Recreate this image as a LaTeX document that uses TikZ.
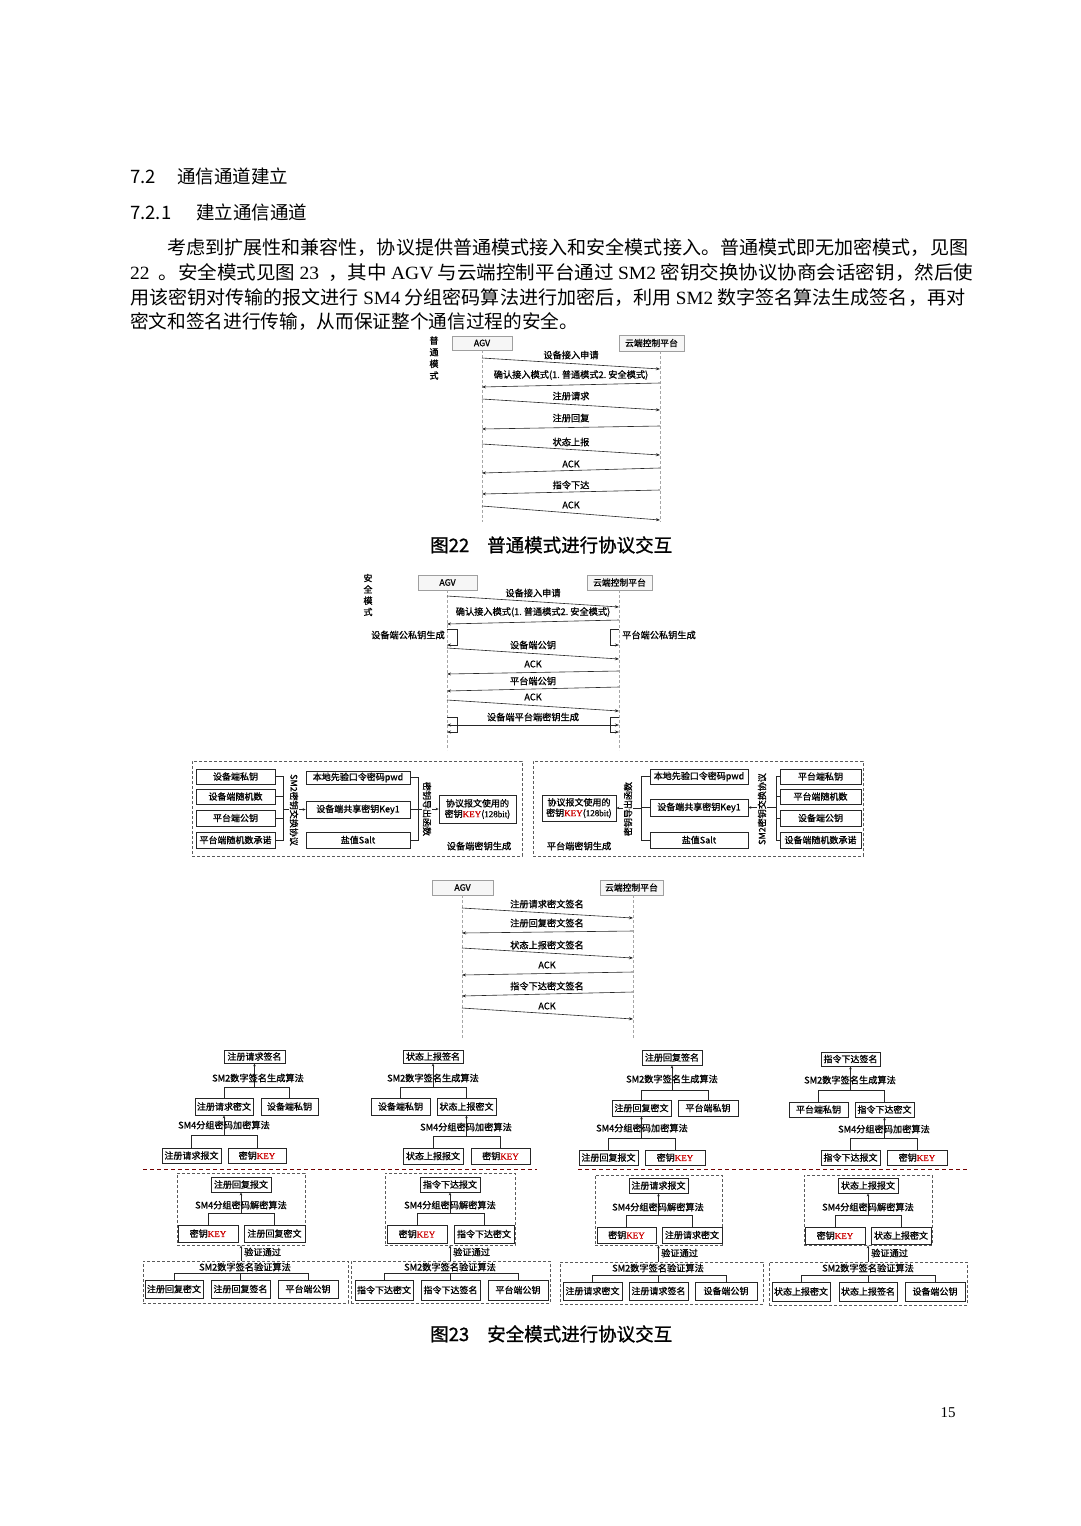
\documentclass[tikz,border=0pt]{standalone}
\usepackage{fontspec}
\usepackage{graphicx}
\setmainfont{Noto Sans CJK SC}
\newfontfamily\tnr{Liberation Serif}
\newfontfamily\dg[FakeBold=1.0]{Noto Sans CJK SC}
\newfontfamily\dgt[FakeBold=1.0]{Liberation Serif}
\usetikzlibrary{arrows.meta}
\newcommand\key{\textcolor{red!80!black}{\dgt KEY}}
\newcommand\mkbox[7][bx]{\node[#1, minimum width={(#5)-(#3)}, minimum height={(#6)-(#4)}] (#2) at ({((#3)+(#5))/2},{((#4)+(#6))/2}) {#7};}
\newcommand\twotree[4]{%
 \draw[tl] (#2.north) -- (#2.north |- 0,#4) -- (#3.north |- 0,#4) -- (#3.north);
 \draw[ta] (#1.south |- 0,#4) -- (#1.south);}
\newcommand\threetree[4]{%
 \draw[tl] (#1.north) -- (#1.north |- 0,#4) -- (#3.north |- 0,#4) -- (#3.north);
 \draw[tl] (#2.north) -- (#2.north |- 0,#4);}
\newcommand\pline[5]{\node[anchor=base west, inner sep=0, font=\fontsize{18.7}{20}\selectfont] (#1) at (#2,#3) {\resizebox{#4pt}{\height}{#5}};}
\tikzset{
 sq/.style={draw=gray!75, fill=gray!7, inner sep=0, font=\dg\fontsize{8.8}{9}\selectfont},
 life/.style={draw=gray!70, dash pattern=on 3pt off 2pt, line width=0.5pt},
 msg/.style={draw=black!85, line width=0.6pt, -{Stealth[length=4pt,width=3pt]}},
 dmsg/.style={draw=black!85, line width=0.6pt, {Stealth[length=4pt,width=3pt]}-{Stealth[length=4pt,width=3pt]}},
 ml/.style={font=\dg\fontsize{9.2}{10}\selectfont, inner sep=0},
 bx/.style={draw=black!85, line width=0.65pt, fill=white, inner sep=0, font=\dg\fontsize{9}{10.5}\selectfont, align=center},
 dbx/.style={draw=black!65, dash pattern=on 3pt off 2pt, line width=0.6pt, inner sep=0},
 tl/.style={draw=black!85, line width=0.6pt},
 ta/.style={tl, -{Stealth[length=3pt,width=2.5pt]}},
 head/.style={anchor=base west, inner sep=0, font=\fontsize{18.5}{20}\selectfont},
 capt/.style={anchor=base west, inner sep=0, font=\dg\fontsize{18.5}{20}\selectfont},
 vtxt/.style={font=\dg\fontsize{9}{10}\selectfont, inner sep=0.6pt, fill=white},
}
\begin{document}
\begin{tikzpicture}[x=1pt,y=-1pt]
\useasboundingbox[fill=white] (0,0) rectangle (1080,1526);

% ---------- headings and paragraph ----------
\node[head] (h1n) at (130,183) {7.2};
\node[head] (h1t) at (177,183) {通信通道建立};
\node[head] (h2n) at (130,219) {7.2.1};
\node[head] (h2t) at (196,219) {建立通信通道};
\pline{p1}{167}{254}{801}{考虑到扩展性和兼容性，协议提供普通模式接入和安全模式接入。普通模式即无加密模式，见图}
\pline{p2}{130}{279}{843}{{\tnr 22}\ \ 。安全模式见图 {\tnr 23}\ \ ，其中 {\tnr AGV} 与云端控制平台通过 {\tnr SM2} 密钥交换协议协商会话密钥，然后使}
\pline{p3}{130}{304}{835}{用该密钥对传输的报文进行 {\tnr SM4} 分组密码算法进行加密后，利用 {\tnr SM2} 数字签名算法生成签名，再对}
\pline{p4}{130}{328}{448}{密文和签名进行传输，从而保证整个通信过程的安全。}

% ---------- Figure 22 ----------
\node[ml, align=center, font=\dg\fontsize{9}{11.7}\selectfont] (m22) at (434,358) {普\\通\\模\\式};
\node[sq, minimum width=60, minimum height=14] (agvA) at (482,343) {AGV};
\node[sq, minimum width=65, minimum height=16] (cldA) at (651.5,343) {云端控制平台};
\coordinate (la) at (482,350);
\coordinate (lc) at (660,351);
\draw[life] (la) -- (la |- 0,522);
\draw[life] (lc) -- (lc |- 0,522);
\draw[msg] (la |- 0,358) -- (lc |- 0,369); \node[ml] at (571,355) {设备接入申请};
\draw[msg] (lc |- 0,383) -- (la |- 0,387); \node[ml] at (571,375) {确认接入模式(1.\ 普通模式2.\ 安全模式)};
\draw[msg] (la |- 0,399) -- (lc |- 0,410); \node[ml] at (571,396) {注册请求};
\draw[msg] (lc |- 0,426) -- (la |- 0,429); \node[ml] at (571,418) {注册回复};
\draw[msg] (la |- 0,444) -- (lc |- 0,455); \node[ml] at (571,442) {状态上报};
\draw[msg] (lc |- 0,468) -- (la |- 0,473); \node[ml] at (571,464) {ACK};
\draw[msg] (lc |- 0,490) -- (la |- 0,494); \node[ml] at (571,485) {指令下达};
\draw[msg] (la |- 0,506) -- (lc |- 0,520); \node[ml] at (571,505) {ACK};
\node[capt] (c22a) at (430,552) {图22};
\node[capt] (c22b) at (487,552) {普通模式进行协议交互};

% ---------- Figure 23: sequence 1 ----------
\node[ml, align=center, font=\dg\fontsize{9}{11.3}\selectfont] (m23) at (368,595) {安\\全\\模\\式};
\node[sq, minimum width=59, minimum height=15] (agvB) at (447.5,582.5) {AGV};
\node[sq, minimum width=65, minimum height=15] (cldB) at (619.5,582.5) {云端控制平台};
\coordinate (lb) at (447,590);
\coordinate (ld) at (619,590);
\draw[life] (lb) -- (lb |- 0,750);
\draw[life] (ld) -- (ld |- 0,750);
\draw[msg] (lb |- 0,596) -- (ld |- 0,607); \node[ml] at (533,593) {设备接入申请};
\draw[msg] (ld |- 0,620) -- (lb |- 0,624); \node[ml] at (533,612) {确认接入模式(1.\ 普通模式2.\ 安全模式)};
\draw[msg] (lb |- 0,629) -- (457,629) -- (457,645) -- (lb |- 0,645);
\node[ml, anchor=east] at (445,635) {设备端公私钥生成};
\draw[msg] (ld |- 0,629) -- (610,629) -- (610,645) -- (ld |- 0,645);
\node[ml, anchor=west] at (622,635) {平台端公私钥生成};
\draw[msg] (lb |- 0,648) -- (ld |- 0,659); \node[ml] at (533,645) {设备端公钥};
\draw[msg] (ld |- 0,671) -- (lb |- 0,674); \node[ml] at (533,664) {ACK};
\draw[msg] (ld |- 0,687) -- (lb |- 0,691); \node[ml] at (533,681) {平台端公钥};
\draw[msg] (lb |- 0,700) -- (ld |- 0,711); \node[ml] at (533,697) {ACK};
\node[ml] at (533,717) {设备端平台端密钥生成};
\draw[msg] (lb |- 0,717) -- (457,717) -- (457,732) -- (lb |- 0,732);
\draw[msg] (ld |- 0,717) -- (610,717) -- (610,732) -- (ld |- 0,732);
\draw[dmsg] (lb |- 0,725) -- (ld |- 0,725);

% ---------- Figure 23: key generation, device side ----------
\mkbox[dbx]{kgl}{192}{761}{522}{856}{}
\mkbox{kl1}{196}{769}{275}{784}{设备端私钥}
\mkbox{kl2}{196}{789}{275}{804}{设备端随机数}
\mkbox{kl3}{196}{810}{275}{826}{平台端公钥}
\mkbox{kl4}{196}{832}{275}{848}{平台端随机数承诺}
\draw[tl] (kl1.east) -- (kl1.east -| 283,0) -- (kl4.east -| 283,0) -- (kl4.east);
\draw[tl] (kl2.east) -- (kl2.east -| 283,0);
\draw[tl] (kl3.east) -- (kl3.east -| 283,0);
\mkbox{ml1}{306}{771}{410}{784}{本地先验口令密码pwd}
\mkbox{ml2}{306}{801}{410}{818}{设备端共享密钥Key1}
\mkbox{ml3}{306}{832}{410}{848}{盐值Salt}
\coordinate (bl1) at (283,809.5);
\draw[ta] (bl1) -- (ml2.west);
\node[vtxt, rotate=-90] (sl1) at (294,810) {SM2密钥交换协议};
\draw[tl] (ml1.east) -- (ml1.east -| 418,0) -- (ml3.east -| 418,0) -- (ml3.east);
\draw[tl] (ml2.east) -- (ml2.east -| 418,0);
\mkbox{kyl}{439}{795}{516}{823}{协议报文使用的\\密钥\key({\dgt 128bit})}
\coordinate (bl2) at (418,809);
\draw[ta] (bl2) -- (kyl.west);
\node[vtxt, rotate=-90] (sl2) at (427,809) {密钥导出函数};
\node[ml] (kgll) at (479,846) {设备端密钥生成};

% ---------- Figure 23: key generation, platform side ----------
\mkbox[dbx]{kgr}{533}{761}{863}{856}{}
\mkbox{kyr}{542}{795}{616}{821}{协议报文使用的\\密钥\key({\dgt 128bit})}
\mkbox{mr1}{650}{769}{748}{784}{本地先验口令密码pwd}
\mkbox{mr2}{650}{799}{748}{816}{设备端共享密钥Key1}
\mkbox{mr3}{650}{832}{748}{848}{盐值Salt}
\draw[tl] (mr1.west) -- (mr1.west -| 641,0) -- (mr3.west -| 641,0) -- (mr3.west);
\draw[tl] (mr2.west) -- (mr2.west -| 641,0);
\coordinate (br2) at (641,808);
\draw[ta] (br2) -- (kyr.east);
\node[vtxt, rotate=90] (sr2) at (628,809) {密钥导出函数};
\mkbox{kr1}{780}{769}{861}{784}{平台端私钥}
\mkbox{kr2}{780}{789}{861}{804}{平台端随机数}
\mkbox{kr3}{780}{810}{861}{826}{设备端公钥}
\mkbox{kr4}{780}{832}{861}{848}{设备端随机数承诺}
\draw[tl] (kr1.west) -- (kr1.west -| 776,0) -- (kr4.west -| 776,0) -- (kr4.west);
\draw[tl] (kr2.west) -- (kr2.west -| 776,0);
\draw[tl] (kr3.west) -- (kr3.west -| 776,0);
\coordinate (br1) at (776,807.5);
\draw[ta] (br1) -- (mr2.east);
\node[vtxt, rotate=90] (sr1) at (762,809) {SM2密钥交换协议};
\node[ml] (kgrl) at (579,846) {平台端密钥生成};

% ---------- Figure 23: sequence 2 ----------
\node[sq, minimum width=61, minimum height=15] (agvC) at (462.5,887.5) {AGV};
\node[sq, minimum width=63, minimum height=15] (cldC) at (631.5,887.5) {云端控制平台};
\coordinate (le) at (462,895);
\coordinate (lf) at (633,895);
\draw[life] (le) -- (le |- 0,1038);
\draw[life] (lf) -- (lf |- 0,1038);
\draw[msg] (le |- 0,908) -- (lf |- 0,918); \node[ml] at (547,904) {注册请求密文签名};
\draw[msg] (lf |- 0,931) -- (le |- 0,933); \node[ml] at (547,923) {注册回复密文签名};
\draw[msg] (le |- 0,948) -- (lf |- 0,958); \node[ml] at (547,945) {状态上报密文签名};
\draw[msg] (lf |- 0,972) -- (le |- 0,975); \node[ml] at (547,965) {ACK};
\draw[msg] (lf |- 0,992) -- (le |- 0,996); \node[ml] at (547,986) {指令下达密文签名};
\draw[msg] (le |- 0,1008) -- (lf |- 0,1019); \node[ml] at (547,1006) {ACK};

% ---------- separator ----------
\draw[draw=red!45!black, dash pattern=on 4pt off 3pt, line width=0.6pt] (143,1169) -- (537,1169);
\draw[draw=red!45!black, dash pattern=on 4pt off 3pt, line width=0.6pt] (578,1169) -- (967,1169);

% ---------- column 1 ----------
\mkbox{a1}{224}{1050}{285}{1063}{注册请求签名}
\mkbox{a2}{195}{1098}{253}{1115}{注册请求密文}
\mkbox{a3}{261}{1098}{318}{1115}{设备端私钥}
\mkbox{a4}{162}{1148}{221}{1163}{注册请求报文}
\mkbox{a5}{228}{1148}{286}{1163}{密钥\key}
\twotree{a1}{a2}{a3}{1087}
\node[ml] at (258,1078) {SM2数字签名生成算法};
\twotree{a2}{a4}{a5}{1135}
\node[ml] at (224,1125) {SM4分组密码加密算法};
\mkbox[dbx]{ad}{177}{1173}{305}{1245}{}
\mkbox{a6}{211}{1177}{271}{1192}{注册回复报文}
\mkbox{a7}{178}{1225}{238}{1242}{密钥\key}
\mkbox{a8}{244}{1225}{305}{1242}{注册回复密文}
\twotree{a6}{a7}{a8}{1213}
\node[ml] at (241,1205) {SM4分组密码解密算法};
\mkbox[dbx]{av}{143}{1261}{348}{1303}{}
\node[ml] at (245,1267) {SM2数字签名验证算法};
\mkbox{a9}{145}{1280}{203}{1298}{注册回复密文}
\mkbox{a10}{211}{1280}{270}{1298}{注册回复签名}
\mkbox{a11}{278}{1280}{338}{1298}{平台端公钥}
\threetree{a9}{a10}{a11}{1273}
\draw[ta] (av.north -| a6.south) -- (ad.south -| a6.south);
\node[ml, anchor=west] at (244,1252) {验证通过};

% ---------- column 2 ----------
\mkbox{b1}{403}{1050}{463}{1063}{状态上报签名}
\mkbox{b2}{371}{1098}{430}{1115}{设备端私钥}
\mkbox{b3}{437}{1098}{496}{1115}{状态上报密文}
\mkbox{b4}{403}{1148}{463}{1164}{状态上报报文}
\mkbox{b5}{471}{1148}{530}{1164}{密钥\key}
\twotree{b1}{b2}{b3}{1087}
\node[ml] at (433,1078) {SM2数字签名生成算法};
\twotree{b3}{b4}{b5}{1136}
\node[ml] at (466,1127) {SM4分组密码加密算法};
\mkbox[dbx]{bd}{385}{1173}{515}{1245}{}
\mkbox{b6}{420}{1177}{480}{1192}{指令下达报文}
\mkbox{b7}{387}{1225}{447}{1243}{密钥\key}
\mkbox{b8}{454}{1225}{514}{1243}{指令下达密文}
\twotree{b6}{b7}{b8}{1213}
\node[ml] at (450,1205) {SM4分组密码解密算法};
\mkbox[dbx]{bv}{351}{1261}{550}{1303}{}
\node[ml] at (450,1267) {SM2数字签名验证算法};
\mkbox{b9}{355}{1280}{413}{1300}{指令下达密文}
\mkbox{b10}{421}{1280}{480}{1300}{指令下达签名}
\mkbox{b11}{488}{1280}{548}{1300}{平台端公钥}
\threetree{b9}{b10}{b11}{1273}
\draw[ta] (bv.north -| b6.south) -- (bd.south -| b6.south);
\node[ml, anchor=west] at (453,1252) {验证通过};

% ---------- column 3 ----------
\mkbox{c1}{642}{1050}{702}{1065}{注册回复签名}
\mkbox{c2}{612}{1100}{671}{1116}{注册回复密文}
\mkbox{c3}{678}{1100}{738}{1116}{平台端私钥}
\mkbox{c4}{579}{1150}{638}{1165}{注册回复报文}
\mkbox{c5}{645}{1150}{705}{1165}{密钥\key}
\twotree{c1}{c2}{c3}{1090}
\node[ml] at (672,1079) {SM2数字签名生成算法};
\twotree{c2}{c4}{c5}{1138}
\node[ml] at (642,1128) {SM4分组密码加密算法};
\mkbox[dbx]{cd}{595}{1175}{722}{1245}{}
\mkbox{c6}{629}{1178}{688}{1193}{注册请求报文}
\mkbox{c7}{597}{1227}{656}{1243}{密钥\key}
\mkbox{c8}{662}{1227}{722}{1243}{注册请求密文}
\twotree{c6}{c7}{c8}{1215}
\node[ml] at (658,1207) {SM4分组密码解密算法};
\mkbox[dbx]{cv}{560}{1262}{763}{1304}{}
\node[ml] at (658,1268) {SM2数字签名验证算法};
\mkbox{c9}{563}{1282}{622}{1300}{注册请求密文}
\mkbox{c10}{629}{1282}{688}{1300}{注册请求签名}
\mkbox{c11}{695}{1282}{757}{1300}{设备端公钥}
\threetree{c9}{c10}{c11}{1275}
\draw[ta] (cv.north -| c6.south) -- (cd.south -| c6.south);
\node[ml, anchor=west] at (661,1253) {验证通过};

% ---------- column 4 ----------
\mkbox{d1}{821}{1052}{880}{1066}{指令下达签名}
\mkbox{d2}{789}{1102}{848}{1117}{平台端私钥}
\mkbox{d3}{855}{1102}{914}{1117}{指令下达密文}
\mkbox{d4}{821}{1150}{880}{1165}{指令下达报文}
\mkbox{d5}{887}{1150}{947}{1165}{密钥\key}
\twotree{d1}{d2}{d3}{1090}
\node[ml] at (850,1080) {SM2数字签名生成算法};
\twotree{d3}{d4}{d5}{1138}
\node[ml] at (884,1129) {SM4分组密码加密算法};
\mkbox[dbx]{dd}{804}{1175}{932}{1245}{}
\mkbox{d6}{838}{1178}{898}{1193}{状态上报报文}
\mkbox{d7}{805}{1227}{865}{1244}{密钥\key}
\mkbox{d8}{871}{1227}{931}{1244}{状态上报密文}
\twotree{d6}{d7}{d8}{1215}
\node[ml] at (868,1207) {SM4分组密码解密算法};
\mkbox[dbx]{dv}{769}{1262}{967}{1305}{}
\node[ml] at (868,1268) {SM2数字签名验证算法};
\mkbox{d9}{772}{1282}{830}{1301}{状态上报密文}
\mkbox{d10}{839}{1282}{897}{1301}{状态上报签名}
\mkbox{d11}{905}{1282}{965}{1301}{设备端公钥}
\threetree{d9}{d10}{d11}{1275}
\draw[ta] (dv.north -| d6.south) -- (dd.south -| d6.south);
\node[ml, anchor=west] at (871,1253) {验证通过};

% ---------- caption and page number ----------
\node[capt] (c23a) at (430,1341) {图23};
\node[capt] (c23b) at (487,1341) {安全模式进行协议交互};
\node[inner sep=0, font=\tnr\fontsize{15}{16}\selectfont] (pg) at (948,1413) {15};
\end{tikzpicture}
\end{document}
